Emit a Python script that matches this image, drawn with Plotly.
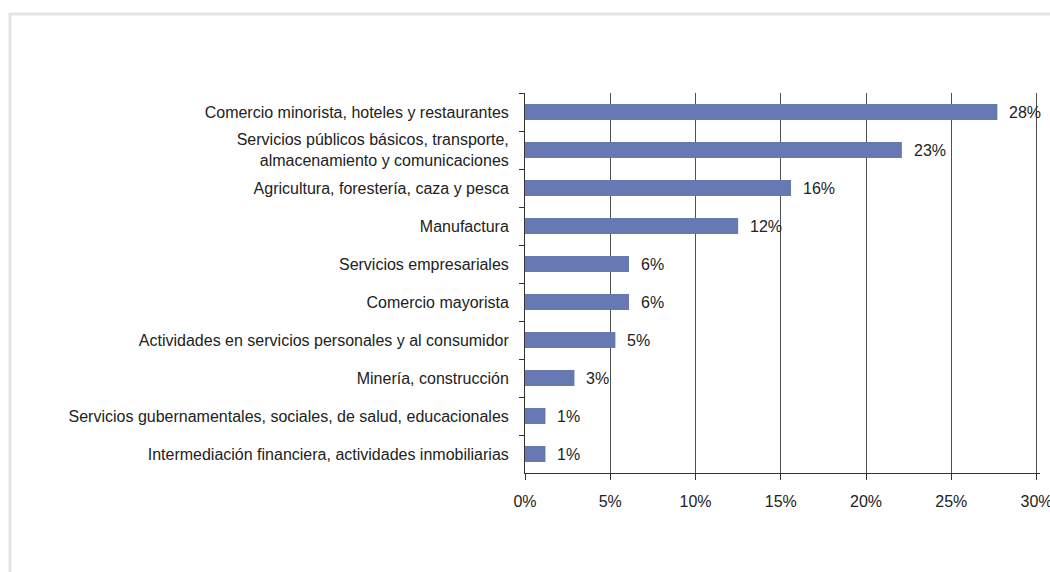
import plotly.graph_objects as go

categories = [
    "Comercio minorista, hoteles y restaurantes",
    "Servicios públicos básicos, transporte,<br>almacenamiento y comunicaciones",
    "Agricultura, forestería, caza y pesca",
    "Manufactura",
    "Servicios empresariales",
    "Comercio mayorista",
    "Actividades en servicios personales y al consumidor",
    "Minería, construcción",
    "Servicios gubernamentales, sociales, de salud, educacionales",
    "Intermediación financiera, actividades inmobiliarias",
]
values = [27.7, 22.1, 15.6, 12.5, 6.1, 6.1, 5.3, 2.9, 1.2, 1.2]
labels = ["28%", "23%", "16%", "12%", "6%", "6%", "5%", "3%", "1%", "1%"]
x_ticks = [0, 5, 10, 15, 20, 25, 30]
x_tick_labels = ["0%", "5%", "10%", "15%", "20%", "25%", "30%"]

W, H = 1050, 572
L, R, T, B = 525, 10, 93, 99
PW, PH = W - L - R, H - T - B

fig = go.Figure()
fig.add_trace(go.Bar(
    y=categories, x=values, orientation="h",
    marker=dict(color="#6679b3", line=dict(width=0)),
    width=0.42,
))

for c, v, t in zip(categories, values, labels):
    fig.add_annotation(x=v, y=c, text=t, showarrow=False, xanchor="left",
                       xshift=10, font=dict(size=16, color="#222222"))

fig.update_layout(
    width=W, height=H,
    margin=dict(l=L, r=R, t=T, b=B, autoexpand=False),
    paper_bgcolor="white", plot_bgcolor="white",
    showlegend=False,
    font=dict(family="Liberation Sans, Arial, sans-serif", color="#222222"),
)
fig.update_xaxes(
    range=[0, 30.2], tickvals=x_ticks, ticktext=x_tick_labels,
    showgrid=True, gridcolor="#505050", gridwidth=1,
    showline=True, linecolor="#333333", linewidth=1,
    ticks="outside", ticklen=6, tickcolor="#333333",
    ticklabelstandoff=8, ticklabeloverflow="allow", automargin=False,
    tickfont=dict(size=16, color="#222222"), zeroline=False,
    fixedrange=True,
)
fig.update_yaxes(
    autorange="reversed", categoryorder="array", categoryarray=categories,
    showline=True, linecolor="#333333", linewidth=1,
    ticks="outside", ticklen=5, tickcolor="#333333", tickson="boundaries",
    ticklabelstandoff=12, automargin=False,
    tickfont=dict(size=16, color="#222222"), showgrid=False,
)
fig.add_shape(type="rect", xref="paper", yref="paper",
              x0=(10 - L) / PW, x1=(W + 40 - L) / PW,
              y0=-(B + 60) / PH, y1=1 + (T - 14) / PH,
              line=dict(color="#e3e3e3", width=3), layer="below")

fig.write_html(
    "out.html",
    config={"displayModeBar": False},
    post_script="document.body.style.margin='0';document.body.style.overflow='hidden';",
)
